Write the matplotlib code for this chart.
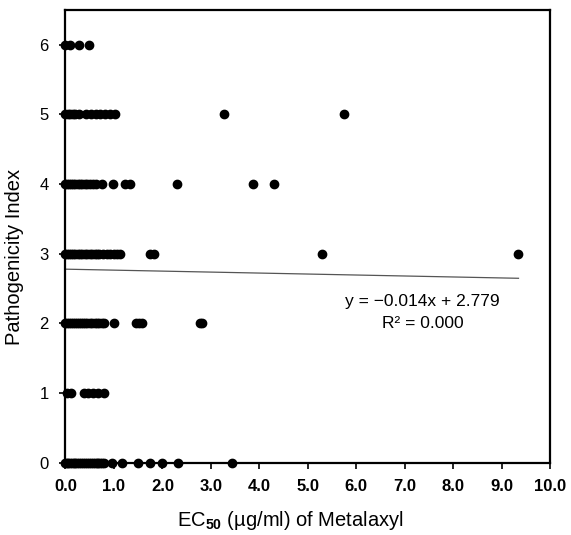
import numpy as np
import matplotlib
matplotlib.use('Agg')
import matplotlib.pyplot as plt

plt.rcParams['font.family'] = ['Liberation Sans', 'DejaVu Sans']
plt.rcParams['mathtext.fontset'] = 'custom'
plt.rcParams['mathtext.rm'] = 'Liberation Sans'
plt.rcParams['mathtext.bf'] = 'Liberation Sans:bold'

# EC50 values (x) grouped by pathogenicity index (y)
ec50_idx0 = [0.0, 0.03, 0.06, 0.1, 0.13, 0.17, 0.2, 0.24, 0.28, 0.32, 0.36, 0.4,
             0.44, 0.48, 0.52, 0.56, 0.6, 0.64, 0.68, 0.72, 0.76, 0.8,
             0.95, 1.16, 1.49, 1.74, 1.99, 2.33, 3.43]
ec50_idx1 = [0.04, 0.12, 0.39, 0.47, 0.57, 0.68, 0.8]
ec50_idx2 = [0.0, 0.04, 0.08, 0.12, 0.16, 0.2, 0.24, 0.28, 0.32, 0.36, 0.4, 0.45,
             0.5, 0.55, 0.6, 0.65, 0.7, 0.76, 0.8, 1.01, 1.45, 1.52, 1.58, 2.77, 2.81]
ec50_idx3 = [0.0, 0.04, 0.08, 0.12, 0.16, 0.2, 0.25, 0.3, 0.35, 0.4, 0.45, 0.5,
             0.55, 0.6, 0.65, 0.7, 0.78, 0.85, 0.92, 1.0, 1.07, 1.13, 1.75, 1.82,
             5.29, 9.35]
ec50_idx4 = [0.0, 0.04, 0.08, 0.12, 0.16, 0.2, 0.25, 0.3, 0.35, 0.4, 0.45, 0.5,
             0.56, 0.62, 0.75, 0.99, 1.23, 1.33, 2.31, 3.86, 4.3]
ec50_idx5 = [0.0, 0.05, 0.1, 0.15, 0.2, 0.27, 0.42, 0.52, 0.62, 0.72, 0.82, 0.92,
             1.02, 3.27, 5.75]
ec50_idx6 = [0.0, 0.09, 0.28, 0.49]

groups = [ec50_idx0, ec50_idx1, ec50_idx2, ec50_idx3, ec50_idx4, ec50_idx5, ec50_idx6]

# linear trend from the figure
slope, intercept = -0.014, 2.779
fit_x = [0.0, 9.35]

fig = plt.figure(figsize=(5.71, 5.35), dpi=100)
ax = fig.add_axes([0.1147, 0.1351, 0.8485, 0.8462])

for idx, xs in enumerate(groups):
    ax.plot(xs, [idx] * len(xs), 'o', color='black', ms=6, clip_on=False)

fx = np.array(fit_x)
ax.plot(fx, slope * fx + intercept, color='#555555', lw=0.9)

ax.text(7.37, 2.32, 'y = \u22120.014x + 2.779', ha='center', va='center', fontsize=12.5)
ax.text(7.37, 2.0, 'R\u00b2 = 0.000', ha='center', va='center', fontsize=12.5)

ax.set_xlim(0, 10)
ax.set_ylim(0, 6.5)
ax.set_xticks(np.arange(0, 11, 1))
ax.set_xticklabels([f'{v:.1f}' for v in range(11)], fontweight='bold')
ax.set_yticks(range(7))
ax.tick_params(direction='out', length=4, width=1.2, labelsize=12)
ax.tick_params(axis='x', pad=8)
ax.tick_params(axis='y', pad=8)
for s in ax.spines.values():
    s.set_linewidth(1.6)

ax.set_xlabel(r'EC$_{\mathbf{50}}$ (\u00b5g/ml) of Metalaxyl'.replace('\\u00b5', '\u00b5'),
              fontsize=14.5)
ax.set_ylabel('Pathogenicity Index', fontsize=14.5)
ax.xaxis.set_label_coords(0.463, -0.102)
ax.yaxis.set_label_coords(-0.086, 0.454)

fig.savefig('out.png', dpi=100)
